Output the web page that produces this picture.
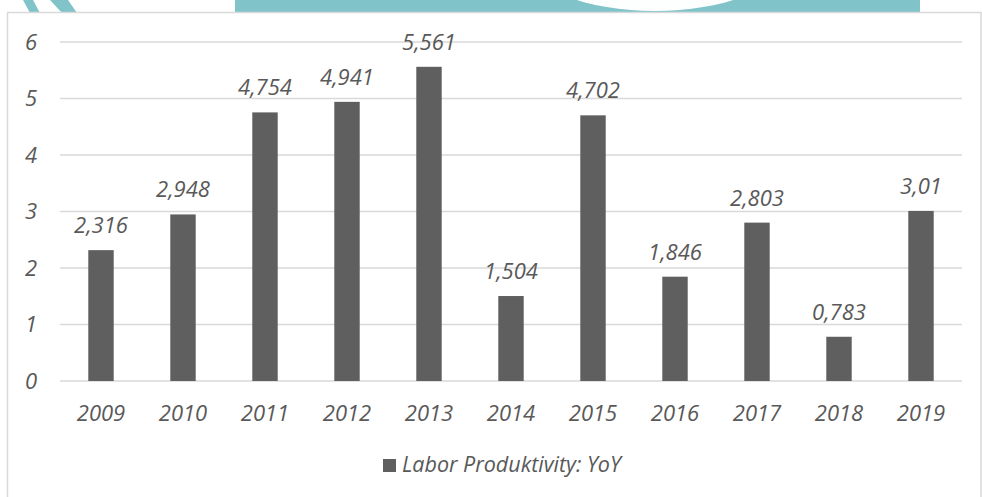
<!DOCTYPE html>
<html lang="en">
  <head>
    <meta charset="UTF-8" />
    <title>Labor Produktivity: YoY</title>
    <style>
      body {
        margin: 0;
        background: #fff;
      }
      text {
        font-family: "Open Sans", sans-serif;
        font-style: italic;
        fill: #595959;
      }
      .grid line {
        stroke: #d9d9d9;
        stroke-width: 1.5px;
      }
    </style>
  </head>

  <body>
    <script src="https://cdn.jsdelivr.net/npm/d3@7"></script>
    <script>
      const years = ["2009", "2010", "2011", "2012", "2013", "2014", "2015", "2016", "2017", "2018", "2019"];
      const productivity = [2.316, 2.948, 4.754, 4.941, 5.561, 1.504, 4.702, 1.846, 2.803, 0.783, 3.01];
      const yTicks = [0, 1, 2, 3, 4, 5, 6];
      const seriesName = "Labor Produktivity: YoY";

      const width = 982,
        height = 497;
      const margin = { top: 42, right: 20, bottom: 116, left: 60 };

      const svg = d3
        .select("body")
        .append("svg")
        .attr("width", width)
        .attr("height", height);

      // teal shapes peeking in above the chart frame
      const deco = svg.append("g").attr("fill", "#80c4ca");
      deco.append("rect").attr("x", 235).attr("y", 0).attr("width", 685).attr("height", 13);
      deco.append("ellipse").attr("cx", 655).attr("cy", -40).attr("rx", 126).attr("ry", 51).attr("fill", "#fdfefe");
      deco.append("path").attr("d", "M23,0 L33,0 L40,13 L30,13 Z");
      deco.append("path").attr("d", "M50,0 L68,0 L77,13 L62,13 Z");

      // chart frame
      svg
        .append("rect")
        .attr("x", 7.5)
        .attr("y", 12.5)
        .attr("width", 973.5)
        .attr("height", 500)
        .attr("fill", "#fff")
        .attr("stroke", "#d9d9d9")
        .attr("stroke-width", 1.5);

      const x = d3
        .scaleBand()
        .domain(years)
        .range([margin.left, width - margin.right])
        .paddingInner(0.69)
        .paddingOuter(0.345);

      const y = d3
        .scaleLinear()
        .domain([0, 6])
        .range([height - margin.bottom, margin.top]);

      const grid = svg.append("g").attr("class", "grid");
      grid
        .selectAll("line")
        .data(yTicks)
        .join("line")
        .attr("x1", margin.left)
        .attr("x2", width - margin.right)
        .attr("y1", d => y(d))
        .attr("y2", d => y(d));

      svg
        .append("g")
        .selectAll("text")
        .data(yTicks)
        .join("text")
        .attr("x", 25)
        .attr("y", d => y(d))
        .attr("dy", "0.36em")
        .style("font-size", "22px")
        .text(d => d);

      svg
        .append("g")
        .selectAll("rect")
        .data(productivity)
        .join("rect")
        .attr("x", (d, i) => x(years[i]))
        .attr("y", d => y(d))
        .attr("width", x.bandwidth())
        .attr("height", d => y(0) - y(d))
        .attr("fill", "#5f5f5f");

      svg
        .append("g")
        .selectAll("text")
        .data(productivity)
        .join("text")
        .attr("x", (d, i) => x(years[i]) + x.bandwidth() / 2)
        .attr("y", d => y(d) - 17)
        .attr("text-anchor", "middle")
        .style("font-size", "22px")
        .text(d => String(d).replace(".", ","));

      svg
        .append("g")
        .selectAll("text")
        .data(years)
        .join("text")
        .attr("x", d => x(d) + x.bandwidth() / 2)
        .attr("y", 420.5)
        .attr("text-anchor", "middle")
        .style("font-size", "22px")
        .text(d => d);

      const legend = svg.append("g").attr("transform", "translate(383,459)");
      legend.append("rect").attr("width", 13).attr("height", 13).attr("fill", "#5f5f5f");
      legend
        .append("text")
        .attr("x", 19)
        .attr("y", 13)
        .style("font-size", "21.5px")
        .text(seriesName);
    </script>
  </body>
</html>
